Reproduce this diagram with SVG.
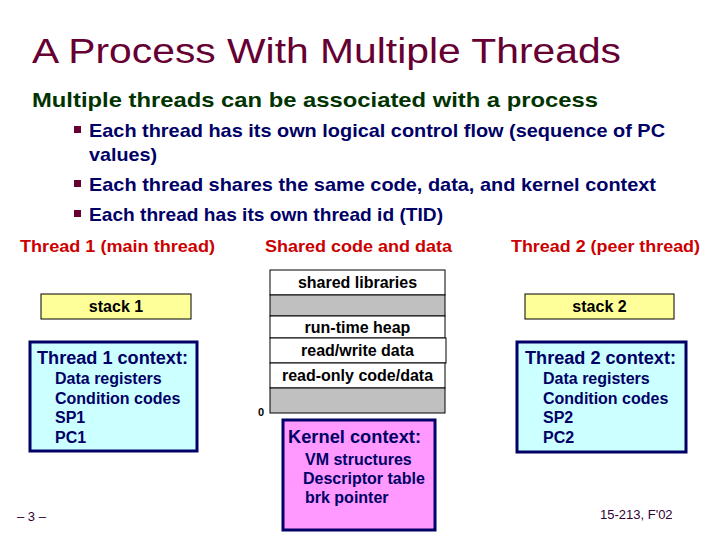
<svg xmlns="http://www.w3.org/2000/svg" width="720" height="540" viewBox="0 0 720 540">
<style>
text{font-family:"Liberation Sans",Arial,sans-serif}
.title{font-size:35px;fill:#660033}
.sub{font-size:21px;font-weight:bold;fill:#003300}
.bul{font-size:18.5px;font-weight:bold;fill:#000066}
.hdr{font-size:16px;font-weight:bold;fill:#CC0000}
.seg{fill:#FFFFFF;stroke:#000000;stroke-width:1}
.gray{fill:#C0C0C0;stroke:#000000;stroke-width:1}
.segt{font-size:16px;font-weight:bold;fill:#000000;text-anchor:middle}
.stack{fill:#FFFF99;stroke:#000000;stroke-width:1}
.ctx{fill:#CCFFFF;stroke:#000066;stroke-width:3}
.kern{fill:#FF99FF;stroke:#000066;stroke-width:3}
.ctxh{font-size:18px;font-weight:bold;fill:#000066}
.ctxt{font-size:16px;font-weight:bold;fill:#000066}
.foot{font-size:13px;fill:#330033}
</style>
<rect width="720" height="540" fill="#FFFFFF"/>
<g id="title">
<text class="title" x="32" y="63" textLength="589" lengthAdjust="spacingAndGlyphs">A Process With Multiple Threads</text>
<text class="sub" x="32" y="107" textLength="566" lengthAdjust="spacingAndGlyphs">Multiple threads can be associated with a process</text>
</g>
<g id="bullets">
<rect x="74" y="126" width="7" height="7" fill="#660033"/>
<text class="bul" x="89" y="137" textLength="576" lengthAdjust="spacingAndGlyphs">Each thread has its own logical control flow (sequence of PC</text>
<text class="bul" x="89" y="161" textLength="68" lengthAdjust="spacingAndGlyphs">values)</text>
<rect x="74" y="180" width="7" height="7" fill="#660033"/>
<text class="bul" x="89" y="191" textLength="567" lengthAdjust="spacingAndGlyphs">Each thread shares the same code, data, and kernel context</text>
<rect x="74" y="210" width="7" height="7" fill="#660033"/>
<text class="bul" x="89" y="221" textLength="354" lengthAdjust="spacingAndGlyphs">Each thread has its own thread id (TID)</text>
</g>
<g id="headers">
<text class="hdr" x="20" y="252" textLength="195" lengthAdjust="spacingAndGlyphs">Thread 1 (main thread)</text>
<text class="hdr" x="265" y="252" textLength="187" lengthAdjust="spacingAndGlyphs">Shared code and data</text>
<text class="hdr" x="511" y="252" textLength="189" lengthAdjust="spacingAndGlyphs">Thread 2 (peer thread)</text>
</g>
<g id="address-space">
<rect class="seg" x="270" y="270" width="175" height="25"/>
<text class="segt" x="357.5" y="288">shared libraries</text>
<rect class="gray" x="270" y="295" width="175" height="21"/>
<rect class="seg" x="270" y="316" width="175" height="22"/>
<text class="segt" x="357.5" y="333">run-time heap</text>
<rect class="seg" x="270" y="338" width="176" height="25"/>
<text class="segt" x="357.5" y="356">read/write data</text>
<rect class="seg" x="270" y="363" width="175" height="25"/>
<text class="segt" x="357.5" y="381">read-only code/data</text>
<rect class="gray" x="270" y="388" width="175" height="25"/>
<text x="258" y="416" style="font-size:11px;font-weight:bold;fill:#000000">0</text>
</g>
<g id="kernel-context">
<rect class="kern" x="283" y="420" width="152" height="110"/>
<text class="ctxh" x="288" y="443" textLength="133" lengthAdjust="spacingAndGlyphs">Kernel context:</text>
<text class="ctxt" x="305" y="465">VM structures</text>
<text class="ctxt" x="303" y="484">Descriptor table</text>
<text class="ctxt" x="305" y="503">brk pointer</text>
</g>
<g id="stack1">
<rect class="stack" x="41" y="294" width="150" height="25"/>
<text class="segt" x="116" y="312">stack 1</text>
</g>
<g id="thread1-context">
<rect class="ctx" x="30" y="342" width="167" height="109"/>
<text class="ctxh" x="37" y="364" textLength="151" lengthAdjust="spacingAndGlyphs">Thread 1 context:</text>
<text class="ctxt" x="55" y="384">Data registers</text>
<text class="ctxt" x="55" y="404">Condition codes</text>
<text class="ctxt" x="55" y="423">SP1</text>
<text class="ctxt" x="55" y="443">PC1</text>
</g>
<g id="stack2">
<rect class="stack" x="525" y="294" width="149" height="25"/>
<text class="segt" x="599.5" y="312">stack 2</text>
</g>
<g id="thread2-context">
<rect class="ctx" x="517" y="342" width="169" height="110"/>
<text class="ctxh" x="525" y="364" textLength="151" lengthAdjust="spacingAndGlyphs">Thread 2 context:</text>
<text class="ctxt" x="543" y="384">Data registers</text>
<text class="ctxt" x="543" y="404">Condition codes</text>
<text class="ctxt" x="543" y="423">SP2</text>
<text class="ctxt" x="543" y="443">PC2</text>
</g>
<g id="connectors"/>
<g id="footer">
<text class="foot" x="17" y="521">– 3 –</text>
<text class="foot" x="600" y="519">15-213, F'02</text>
</g>
</svg>
